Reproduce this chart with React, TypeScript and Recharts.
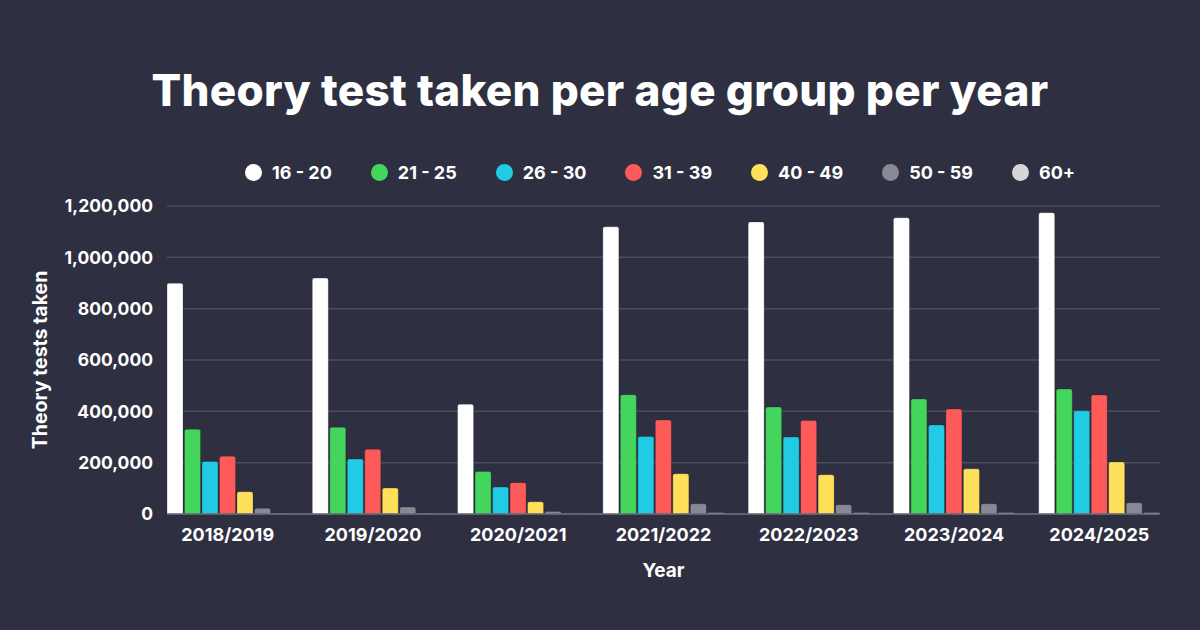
import React from 'react';
import { BarChart, Bar, XAxis, YAxis, CartesianGrid, Legend } from 'recharts';

const years = ['2018/2019', '2019/2020', '2020/2021', '2021/2022', '2022/2023', '2023/2024', '2024/2025'];
const ageGroups = ['16 - 20', '21 - 25', '26 - 30', '31 - 39', '40 - 49', '50 - 59', '60+'];
const colors = ['#ffffff', '#44d55d', '#21cbe4', '#ff5a5a', '#ffe05a', '#878a94', '#d6d6da'];

const v16_20 = [899000, 919000, 428000, 1119000, 1138000, 1154000, 1174000];
const v21_25 = [330000, 338000, 166000, 465000, 417000, 448000, 487000];
const v26_30 = [205000, 214000, 105000, 302000, 300000, 347000, 402000];
const v31_39 = [225000, 252000, 122000, 366000, 364000, 409000, 464000];
const v40_49 = [87000, 101000, 48000, 157000, 153000, 176000, 203000];
const v50_59 = [22000, 27000, 10000, 40000, 36000, 40000, 44000];
const v60plus = [2000, 3000, 1000, 5000, 5000, 5000, 5000];
const yTicks = [0, 200000, 400000, 600000, 800000, 1000000, 1200000];

const seriesValues = [v16_20, v21_25, v26_30, v31_39, v40_49, v50_59, v60plus];
const data = years.map((year, i) => {
  const row: Record<string, string | number> = { year };
  ageGroups.forEach((g, j) => {
    row[g] = seriesValues[j][i];
  });
  return row;
});

const FONT = 'Inter, "Noto Sans", sans-serif';
const BG = '#2e3041';

const LegendContent = (props: any) => {
  const { payload } = props;
  return (
    <div style={{ display: 'flex', justifyContent: 'center', alignItems: 'center', fontFamily: FONT, paddingLeft: 120 }}>
      {(payload || []).map((p: any, i: number) => (
        <div key={i} style={{ display: 'flex', alignItems: 'center', marginRight: i < payload.length - 1 ? 39 : 0 }}>
          <span style={{ width: 17, height: 17, borderRadius: 9, background: p.color, display: 'inline-block', marginRight: 10 }} />
          <span style={{ color: '#ffffff', fontSize: 18, fontWeight: 700 }}>{p.value}</span>
        </div>
      ))}
    </div>
  );
};

export default function App() {
  return (
    <div style={{ position: 'fixed', left: 0, top: 0, width: 1200, height: 630, background: BG, overflow: 'hidden' }}>
      <div
        style={{
          position: 'absolute',
          top: 62,
          left: 0,
          width: 1200,
          textAlign: 'center',
          color: '#ffffff',
          fontFamily: FONT,
          fontWeight: 800,
          fontSize: 44,
          lineHeight: '56px',
          letterSpacing: 0.3,
        }}
      >
        Theory test taken per age group per year
      </div>
      <BarChart
        width={1200}
        height={630}
        data={data}
        margin={{ top: 206, right: 40, left: 20, bottom: 46 }}
        barSize={16}
        barGap={1.5}
      >
        <CartesianGrid vertical={false} stroke="#4c4e5e" strokeWidth={1.5} />
        <XAxis
          dataKey="year"
          padding={{ left: -12, right: -12 }}
          height={70}
          tickLine={false}
          tickSize={0}
          tickMargin={14}
          axisLine={{ stroke: '#6a6c78', strokeWidth: 1.5 }}
          tick={{ fill: '#ffffff', fontSize: 18, fontWeight: 700, fontFamily: FONT }}
          interval={0}
          label={{ value: 'Year', position: 'insideBottom', offset: 7, fill: '#ffffff', fontSize: 19, fontWeight: 700, fontFamily: FONT }}
        />
        <YAxis
          width={147}
          domain={[0, 1200000]}
          ticks={yTicks}
          interval={0}
          tickLine={false}
          tickSize={0}
          tickMargin={14}
          axisLine={false}
          tickFormatter={(v: number) => v.toLocaleString('en-US')}
          tick={{ fill: '#ffffff', fontSize: 17.5, fontWeight: 700, fontFamily: FONT }}
          label={{
            value: 'Theory tests taken',
            angle: -90,
            position: 'insideLeft',
            offset: 20,
            style: { textAnchor: 'middle' },
            fill: '#ffffff',
            fontSize: 19.5,
            fontWeight: 700,
            fontFamily: FONT,
          }}
        />
        <Legend
          verticalAlign="middle"
          align="center"
          layout="horizontal"
          wrapperStyle={{ top: 162, left: 0, width: 1200 }}
          content={<LegendContent />}
        />
        {ageGroups.map((g, j) => (
          <Bar
            key={g}
            dataKey={g}
            fill={colors[j]}
            radius={[2, 2, 0, 0]}
            stroke="rgba(20,20,30,0.3)"
            strokeWidth={0.8}
            isAnimationActive={false}
          />
        ))}
      </BarChart>
    </div>
  );
}
